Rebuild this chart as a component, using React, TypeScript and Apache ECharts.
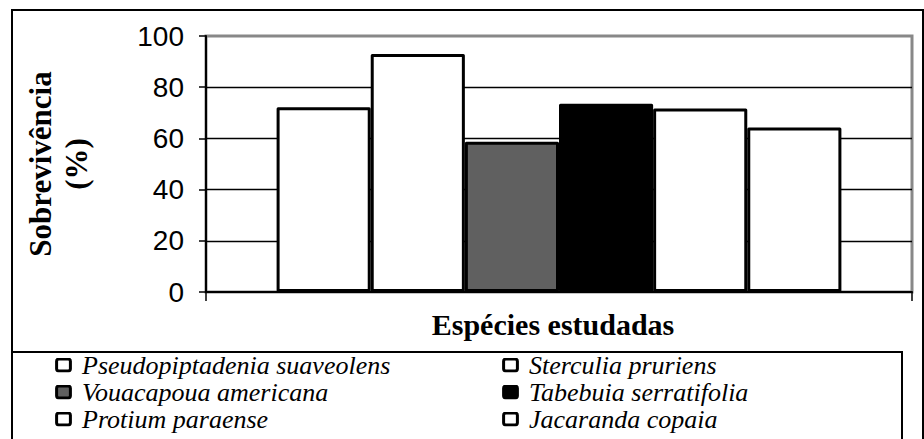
import React, { useEffect, useRef } from "react";
import * as echarts from "echarts";

const species = [
  "Pseudopiptadenia suaveolens",
  "Sterculia pruriens",
  "Vouacapoua americana",
  "Tabebuia serratifolia",
  "Protium paraense",
  "Jacaranda copaia",
];
const survival = [72.2, 93, 58.7, 73.5, 71.7, 64.3];
const barColors = ["#ffffff", "#ffffff", "#606060", "#000000", "#ffffff", "#ffffff"];
const categories = ["Espécies"];
const yTitle = "Sobrevivência\n(%)";
const xTitle = "Espécies estudadas";

function iconFor(color: string) {
  const svg =
    "<svg xmlns='http://www.w3.org/2000/svg' width='17' height='15' viewBox='0 0 17 15'>" +
    "<rect x='1.6' y='1.6' width='13.8' height='11.8' rx='2.2' ry='2.2' fill='" +
    color +
    "' stroke='#000' stroke-width='3'/></svg>";
  return "image://data:image/svg+xml;charset=utf-8," + encodeURIComponent(svg);
}

export default function App() {
  const ref = useRef<HTMLDivElement>(null);
  useEffect(() => {
    const chart = echarts.init(ref.current!, undefined, { renderer: "svg" });
    const serif = "Liberation Serif";
    const legendText = {
      fontFamily: serif,
      fontStyle: "italic",
      fontSize: 26,
      color: "#000",
      padding: [0, 0, 0, 5],
    };
    const legendBase = {
      orient: "vertical",
      top: 352,
      itemWidth: 17,
      itemHeight: 15,
      itemGap: 1,
      padding: 0,
      selectedMode: false,
      textStyle: legendText,
    };
    const legendItem = (i: number) => ({ name: species[i], icon: iconFor(barColors[i]) });
    chart.setOption({
      animation: false,
      backgroundColor: "#ffffff",
      graphic: [
        {
          type: "rect",
          z: -10,
          shape: { x: 12, y: 10, width: 911, height: 470 },
          style: { fill: "none", stroke: "#000", lineWidth: 2 },
        },
        {
          type: "rect",
          z: -5,
          shape: { x: 12, y: 352, width: 890, height: 130 },
          style: { fill: "#fff", stroke: "#000", lineWidth: 2 },
        },
      ],
      grid: {
        left: 206,
        top: 36,
        width: 706,
        height: 256,
        show: true,
        borderColor: "#888888",
        borderWidth: 3,
        backgroundColor: "transparent",
        containLabel: false,
        outerBoundsMode: "none",
      },
      xAxis: {
        type: "category",
        data: categories,
        name: xTitle,
        nameLocation: "middle",
        nameGap: 17,
        nameTextStyle: { fontFamily: serif, fontWeight: "bold", fontSize: 30, color: "#000", padding: [0, 12, 0, 0] },
        axisLine: { lineStyle: { color: "#000", width: 2 } },
        axisTick: { show: true, length: 9, lineStyle: { color: "#000", width: 1.5 } },
        axisLabel: { show: false },
      },
      yAxis: {
        type: "value",
        min: 0,
        max: 100,
        interval: 20,
        name: yTitle,
        nameLocation: "middle",
        nameRotate: 90,
        nameGap: 112,
        nameTextStyle: { fontFamily: serif, fontWeight: "bold", fontSize: 31, color: "#000", lineHeight: 36 },
        axisLine: { show: true, lineStyle: { color: "#000", width: 2 } },
        axisTick: { show: true, length: 7, lineStyle: { color: "#000", width: 1.5 } },
        axisLabel: { margin: 22, fontFamily: "Liberation Sans", fontSize: 28, color: "#000" },
        splitLine: { show: true, showMinLine: false, showMaxLine: false, lineStyle: { color: "#000", width: 1.3 } },
      },
      legend: [
        { ...legendBase, left: 55, data: [legendItem(0), legendItem(2), legendItem(4)] },
        { ...legendBase, left: 502, data: [legendItem(1), legendItem(3), legendItem(5)] },
      ],
      series: species.map((name, i) => ({
        name,
        type: "bar",
        data: [survival[i]],
        barGap: "0%",
        barCategoryGap: "20%",
        itemStyle: { color: barColors[i], borderColor: "#000", borderWidth: 3, borderJoin: "round" },
      })),
    });
    return () => chart.dispose();
  }, []);
  return (
    <div
      ref={ref}
      style={{ position: "fixed", left: 0, top: 0, width: 924, height: 439 }}
    />
  );
}
